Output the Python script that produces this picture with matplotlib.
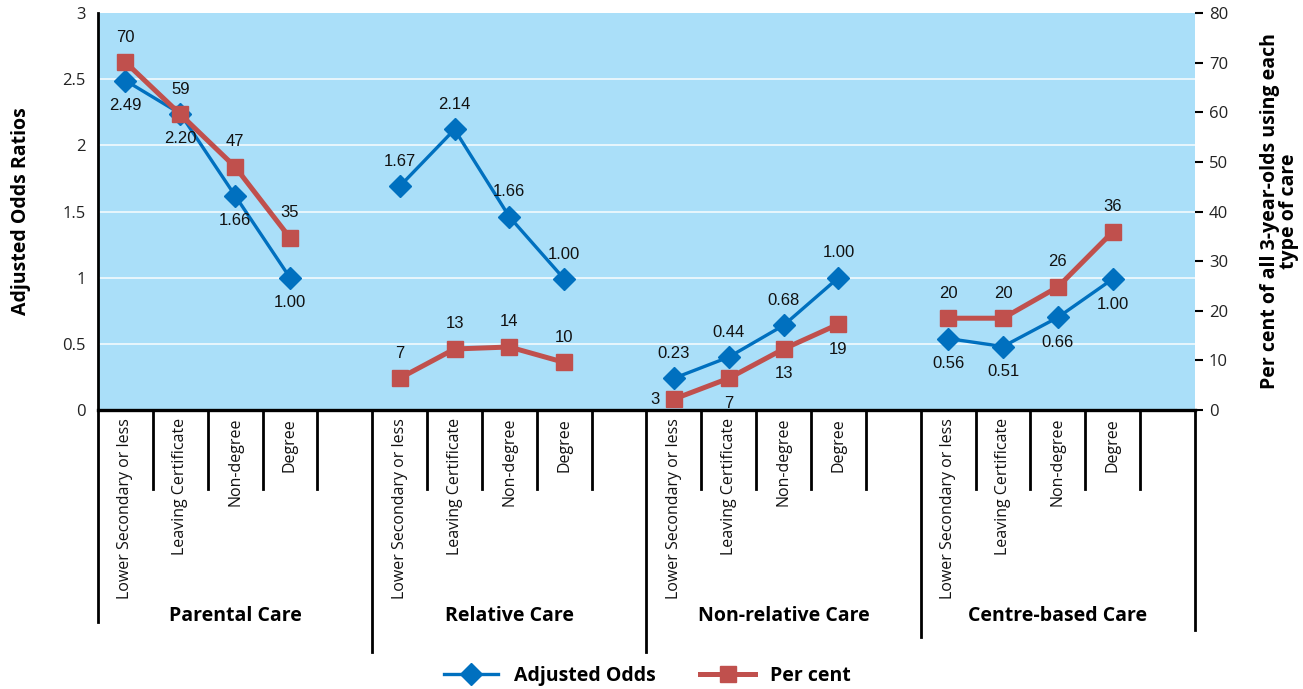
import matplotlib
matplotlib.use("Agg")
import matplotlib.pyplot as plt
from matplotlib.lines import Line2D
import matplotlib.transforms as mtransforms

groups = ["Parental Care", "Relative Care", "Non-relative Care", "Centre-based Care"]
levels = ["Lower Secondary or less", "Leaving Certificate", "Non-degree", "Degree"]

# adjusted odds (where the points sit) and the printed labels
odds = [[2.49, 2.24, 1.62, 1.00],
        [1.69, 2.12, 1.46, 0.99],
        [0.24, 0.40, 0.64, 1.00],
        [0.54, 0.48, 0.70, 0.99]]
odds_labels = [["2.49", "2.20", "1.66", "1.00"],
               ["1.67", "2.14", "1.66", "1.00"],
               ["0.23", "0.44", "0.68", "1.00"],
               ["0.56", "0.51", "0.66", "1.00"]]
odds_pos = ["below", "above", "above", "below"]

# per cent using each type of care
pct = [[70.1, 59.6, 49.0, 34.7],
       [6.4, 12.3, 12.7, 9.6],
       [2.2, 6.4, 12.3, 17.3],
       [18.5, 18.5, 24.8, 35.9]]
pct_labels = [["70", "59", "47", "35"],
              ["7", "13", "14", "10"],
              ["3", "7", "13", "19"],
              ["20", "20", "26", "36"]]
pct_pos = [["above"] * 4, ["above"] * 4, ["left", "below", "below", "below"], ["above"] * 4]

blue = "#0070bf"
red = "#c0504d"
bg = "#aadff9"
narrow = ["Liberation Sans Narrow", "Liberation Sans", "DejaVu Sans"]

plt.rcParams["font.family"] = ["Open Sans", "DejaVu Sans"]

fig = plt.figure(figsize=(13.03, 6.89), dpi=100)
ax = fig.add_axes([0.0752, 0.4049, 0.8419, 0.5762])
ax2 = ax.twinx()

nslot = len(groups) * (len(levels) + 1)
ax.set_xlim(0, nslot)
ax.set_ylim(0, 3)
ax2.set_ylim(0, 80)
ax.set_facecolor(bg)
ax.set_zorder(0)
ax2.set_zorder(1)

for yv in [0.5, 1, 1.5, 2, 2.5]:
    ax.axhline(yv, color="#e8f6fd", lw=1.4, zorder=1)

offs = {"above": (0, 18), "below": (0, -18), "left": (-10, 0)}

for g in range(len(groups)):
    xs = [g * (len(levels) + 1) + i + 0.5 for i in range(len(levels))]
    ax2.plot(xs, pct[g], color=red, lw=3.6, marker="s", ms=12, zorder=3, clip_on=False)
    ax.plot(xs, odds[g], color=blue, lw=2.4, marker="D", ms=11.5, zorder=4, clip_on=False)
for g in range(len(groups)):
    xs = [g * (len(levels) + 1) + i + 0.5 for i in range(len(levels))]
    for i in range(len(levels)):
        ax2.annotate(odds_labels[g][i], (xs[i], odds[g][i] * 80 / 3), xytext=offs[odds_pos[g]],
                     textcoords="offset points", ha="center", va="center",
                     fontsize=12, family=narrow, color="#111111", zorder=6)
        p = pct_pos[g][i]
        ax2.annotate(pct_labels[g][i], (xs[i], pct[g][i]), xytext=offs[p],
                     textcoords="offset points", ha="right" if p == "left" else "center",
                     va="center", fontsize=12, family=narrow, color="#111111", zorder=6)

# left axis
ax.set_yticks([0, 0.5, 1, 1.5, 2, 2.5, 3])
ax.set_yticklabels(["0", "0.5", "1", "1.5", "2", "2.5", "3"])
ax.tick_params(axis="y", length=0, pad=9, labelsize=12, labelcolor="#222222")
ax.set_xticks([])
for s in ["top", "right"]:
    ax.spines[s].set_visible(False)
    ax2.spines[s].set_visible(False)
ax2.spines["left"].set_visible(False)
ax2.spines["bottom"].set_visible(False)
ax.spines["left"].set_linewidth(2)
ax.spines["bottom"].set_linewidth(2.4)
ax.set_ylabel("Adjusted Odds Ratios", fontsize=14, fontweight="bold", labelpad=22)

# right axis
ax2.set_yticks(range(0, 81, 10))
ax2.tick_params(axis="y", length=6, width=1.5, pad=4, labelsize=12, labelcolor="#222222")
ax2.set_ylabel("Per cent of all 3-year-olds using each\ntype of care", fontsize=14,
               fontweight="bold", labelpad=23, linespacing=0.9)

# multi-level category axis underneath
tr = mtransforms.blended_transform_factory(ax.transData, ax.transAxes)
group_ends = [-0.534, -0.61, -0.61, -0.572, -0.554]
for g in range(len(groups)):
    base = g * (len(levels) + 1)
    for i in range(1, len(levels) + 1):
        ax.plot([base + i, base + i], [0, -0.199], color="black", lw=2, transform=tr, clip_on=False)
    for i in range(len(levels)):
        ax.text(base + i + 0.5, -0.02, levels[i], rotation=90, ha="center", va="top",
                fontsize=11.5, transform=tr, color="#111111")
    ax.text(base + (len(levels) + 1) / 2, -0.519, groups[g], ha="center", va="center",
            fontsize=14, fontweight="bold", transform=tr)
for g in range(len(groups) + 1):
    xb = g * (len(levels) + 1)
    ax.plot([xb, xb], [0, group_ends[g]], color="black", lw=2, transform=tr, clip_on=False)

handles = [Line2D([], [], color=blue, lw=2.4, marker="D", ms=11.5),
           Line2D([], [], color=red, lw=3.6, marker="s", ms=12)]
fig.legend(handles, ["Adjusted Odds", "Per cent"], loc="center", bbox_to_anchor=(0.497, 0.019),
           ncol=2, frameon=False, handlelength=2.8, columnspacing=2.3, handletextpad=0.8,
           prop={"size": 14, "weight": "bold"})

fig.savefig("out.png", dpi=100)
